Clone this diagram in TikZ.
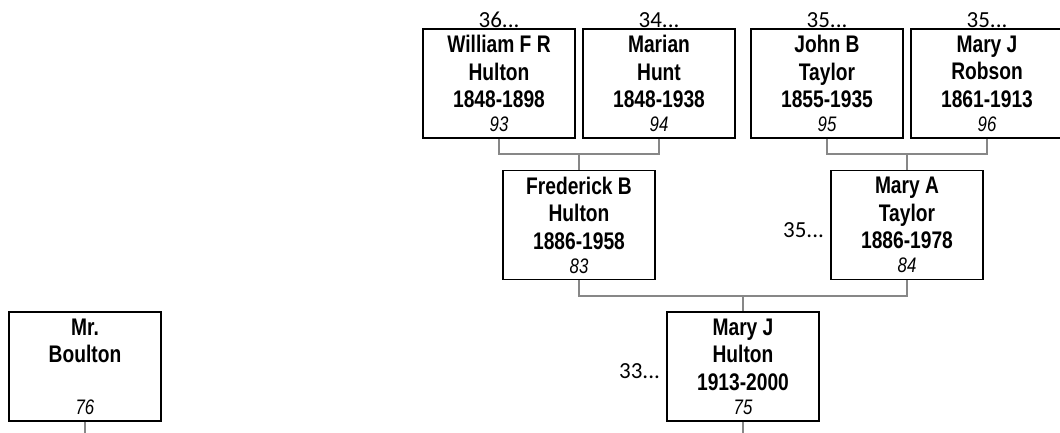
\documentclass[tikz,border=0pt]{standalone}
\usepackage{fontspec}
\newfontfamily\nameff{Liberation Sans}[FakeStretch=0.8]
\newfontfamily\genff{Carlito}
\newcommand\pcontent[4]{#1\\#2\\#3\\[-3.5pt]{\fontsize{21}{22}\selectfont\mdseries\itshape #4}}
\tikzset{
  person/.style={draw=black, line width=1.8pt, fill=white, minimum width=152pt,
    minimum height=109pt, inner sep=0pt, align=center,
    font=\nameff\bfseries\fontsize{24}{27.5}\selectfont},
  conn/.style={draw=black!47, line width=1.8pt},
  gen/.style={font=\genff\fontsize{23}{26}\selectfont, inner sep=0pt}
}
\begin{document}
\begin{tikzpicture}[x=1pt,y=-1pt]
\useasboundingbox (0,0) rectangle (1060,432);
% junctions
\coordinate (j1) at (579,154);
\coordinate (j2) at (907,154);
\coordinate (j3) at (743,296);
\coordinate (e75) at (743,436);
\coordinate (e76) at (85,436);
% persons
\node[person] (b93) at (499,83.5) {\pcontent{William F R}{Hulton}{1848-1898}{93}};
\node[person] (b94) at (659,83.5) {\pcontent{Marian}{Hunt}{1848-1938}{94}};
\node[person] (b95) at (827,83.5) {\pcontent{John B}{Taylor}{1855-1935}{95}};
\node[person] (b96) at (987,83.5) {\pcontent{Mary J}{Robson}{1861-1913}{96}};
\node[person] (b83) at (579,225) {\pcontent{Frederick B}{Hulton}{1886-1958}{83}};
\node[person] (b84) at (907,225) {\pcontent{Mary A}{Taylor}{1886-1978}{84}};
\node[person] (b75) at (743,366.5) {\pcontent{Mary J}{Hulton}{1913-2000}{75}};
\node[person] (b76) at (85,366.5) {\pcontent{Mr.}{Boulton}{\mbox{}}{76}};
% connectors
\draw[conn] (b93.south) |- (j1) -| (b94.south);
\draw[conn] (j1) -- (b83.north);
\draw[conn] (b95.south) |- (j2) -| (b96.south);
\draw[conn] (j2) -- (b84.north);
\draw[conn] (b83.south) |- (j3) -| (b84.south);
\draw[conn] (j3) -- (b75.north);
\draw[conn] (b75.south) -- (e75);
\draw[conn] (b76.south) -- (e76);
% generation labels
\node[gen, anchor=base] (g93) at ([yshift=1pt]b93.north) {36...};
\node[gen, anchor=base] (g94) at ([yshift=1pt]b94.north) {34...};
\node[gen, anchor=base] (g95) at ([yshift=1pt]b95.north) {35...};
\node[gen, anchor=base] (g96) at ([yshift=1pt]b96.north) {35...};
\node[gen, anchor=base east] (g84) at ([xshift=-6pt,yshift=-12pt]b84.west) {35...};
\node[gen, anchor=base east] (g75) at ([xshift=-6pt,yshift=-11.5pt]b75.west) {33...};
\end{tikzpicture}
\end{document}
